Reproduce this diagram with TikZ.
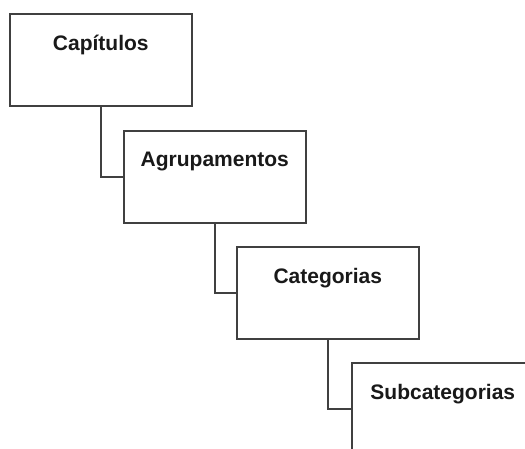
\documentclass[tikz,border=0pt]{standalone}
\usepackage{fontspec}
\setmainfont{Liberation Sans}
\begin{document}
\begin{tikzpicture}[x=1pt,y=-1pt,
  levelbox/.style={draw=black!75, line width=1.6pt, fill=white, rectangle,
    minimum width=182pt, minimum height=92pt, inner sep=0pt, anchor=north west},
  leveltext/.style={font=\fontsize{21}{25}\selectfont\bfseries, text=black!90, inner sep=0pt},
  link/.style={draw=black!75, line width=1.6pt}]
\useasboundingbox (0,0) rectangle (525,449);
\clip (0,0) rectangle (525,449);
% hierarchy boxes, each stepped down and to the right
\node[levelbox] (cap) at (9,13) {};
\node[levelbox] (agr) at (123,130) {};
\node[levelbox] (cat) at (236,246) {};
\node[levelbox] (sub) at (351,362) {};
% labels near the top of each box
\node[leveltext] (tcap) at ([yshift=-32pt]cap.north) {Capítulos};
\node[leveltext] (tagr) at ([yshift=-32pt]agr.north) {Agrupamentos};
\node[leveltext] (tcat) at ([yshift=-32pt]cat.north) {Categorias};
\node[leveltext] (tsub) at ([yshift=-32pt]sub.north) {Subcategorias};
% elbow connectors between levels
\draw[link] (cap.south) |- (agr.west);
\draw[link] (agr.south) |- (cat.west);
\draw[link] (cat.south) |- (sub.west);
\end{tikzpicture}
\end{document}
